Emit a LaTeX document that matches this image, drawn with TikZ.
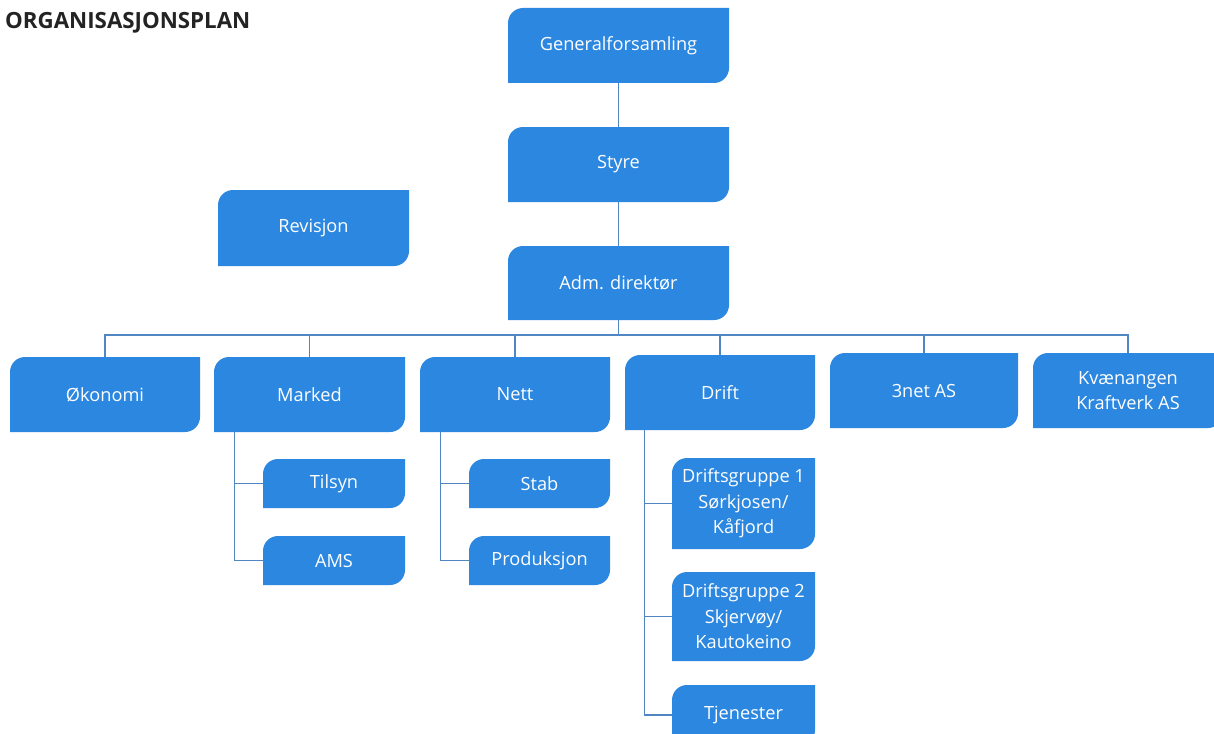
\documentclass[tikz,border=0pt]{standalone}
\usepackage{fontspec}
\setmainfont{Open Sans}
\usetikzlibrary{calc}
\definecolor{boxc}{RGB}{43,135,224}
\definecolor{linec}{RGB}{80,135,195}
\definecolor{titlec}{RGB}{35,35,35}
\tikzset{
  orgfill/.style={fill=boxc},
  orgtext/.style={text=white, font=\fontsize{18.2}{25.5}\selectfont, align=center, inner sep=0pt},
  conn/.style={draw=linec, line width=1.3pt},
}
\newcommand\orgbox[6]{%
  \fill[orgfill] (#2,-#5) -- (#2,-#3-15) arc[start angle=180,end angle=90,radius=15pt] -- (#4,-#3) -- (#4,-#5+15) arc[start angle=0,end angle=-90,radius=15pt] -- cycle;
  \node[orgtext, minimum width={(#4-#2)*1pt}, minimum height={(#5-#3)*1pt}] (#1) at ({(#2+#4)/2},{-(#3+#5)/2}) {#6};
}
\begin{document}
\begin{tikzpicture}[x=1pt,y=1pt]
\useasboundingbox (0,0) rectangle (1214,-733);
\clip (0,0) rectangle (1214,-733);
\fill[white] (0,0) rectangle (1214,-733);
\node[anchor=base west, inner sep=0pt, text=titlec, font=\bfseries\fontsize{22.3}{24}\selectfont] (title) at (5,-28.5) {ORGANISASJONSPLAN};

\orgbox{gen}{508}{8}{729}{83}{Generalforsamling}
\orgbox{sty}{508}{127}{729}{202}{Styre}
\orgbox{adm}{508}{246}{729}{320}{Adm. direktør}
\orgbox{rev}{218}{190}{409}{266}{Revisjon}
\orgbox{oko}{10}{357}{200}{432}{Økonomi}
\orgbox{mar}{214}{357}{405}{432}{Marked}
\orgbox{net}{420}{357}{610}{432}{Nett}
\orgbox{dri}{625}{355}{815}{430}{Drift}
\orgbox{tre}{830}{353}{1018}{428}{3net AS}
\orgbox{kva}{1033}{353}{1223}{428}{Kvænangen\\Kraftverk AS}
\orgbox{til}{263}{459}{405}{508}{Tilsyn}
\orgbox{ams}{263}{536}{405}{585}{AMS}
\orgbox{sta}{469}{459}{610}{508}{Stab}
\orgbox{pro}{469}{536}{610}{585}{Produksjon}
\orgbox{dg1}{672}{458}{815}{549}{Driftsgruppe 1\\Sørkjosen/\\Kåfjord}
\orgbox{dg2}{672}{572}{815}{661}{Driftsgruppe 2\\Skjervøy/\\Kautokeino}
\orgbox{tje}{672}{685}{815}{745}{Tjenester}

\coordinate (bus) at (618.5,-335);
\draw[conn] (gen.south) -- (sty.north);
\draw[conn] (sty.south) -- (adm.north);
\draw[conn] (adm.south) -- (bus);
\foreach \n in {oko,mar,net,dri,tre,kva} \draw[conn] (\n.north) |- (bus);

\coordinate (mart) at ([xshift=21pt]mar.south west);
\coordinate (nett) at ([xshift=21pt]net.south west);
\coordinate (drit) at ([xshift=20pt]dri.south west);
\draw[conn] (mart) |- (til.west);
\draw[conn] (mart) |- (ams.west);
\draw[conn] (nett) |- (sta.west);
\draw[conn] (nett) |- (pro.west);
\draw[conn] (drit) |- (dg1.west);
\draw[conn] (drit) |- (dg2.west);
\draw[conn] (drit) |- (tje.west);
\end{tikzpicture}
\end{document}
